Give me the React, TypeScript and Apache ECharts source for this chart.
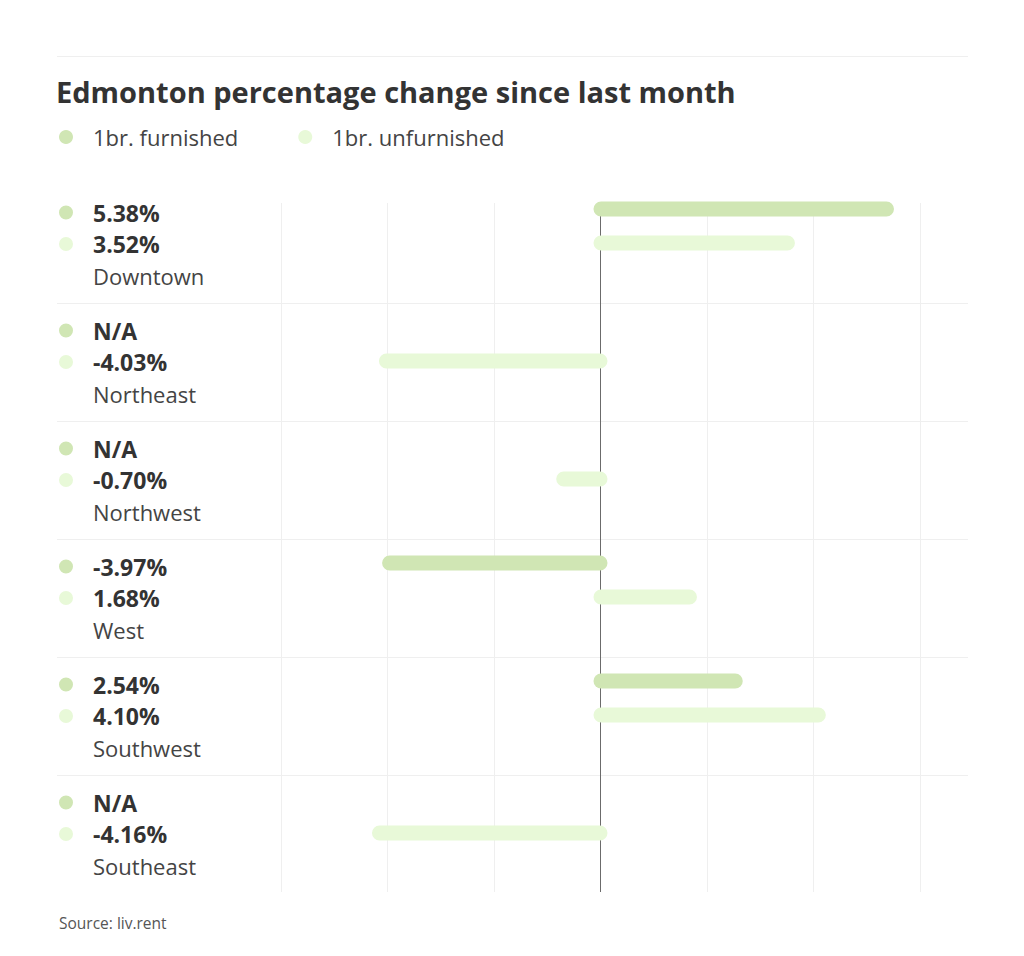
import React, { useEffect, useRef } from "react";
import * as echarts from "echarts";

const titleText = "Edmonton percentage change since last month";
const sourceText = "Source: liv.rent";
const seriesNames = ["1br. furnished", "1br. unfurnished"];
const regions = ["Downtown", "Northeast", "Northwest", "West", "Southwest", "Southeast"];
const furnished: (number | null)[] = [5.38, null, null, -3.97, 2.54, null];
const unfurnished: (number | null)[] = [3.52, -4.03, -0.7, 1.68, 4.1, -4.16];
const xMin = -6;
const xMax = 6;
const xInterval = 2;

const COLOR_F = "#d0e6b4";
const COLOR_U = "#e8f9d8";
const FONT = "'Open Sans', 'Noto Sans', sans-serif";

const fmt = (v: number | null) => (v == null ? "N/A" : v.toFixed(2) + "%");

function makeRender(color: string, offset: number) {
  return (params: any, api: any) => {
    const v = api.value(0);
    const cat = api.value(1);
    if (v == null || isNaN(v)) return null;
    const p0 = api.coord([0, cat]);
    const p1 = api.coord([v, cat]);
    const pad = 7;
    const h = 15;
    const x0 = Math.min(p0[0], p1[0]) - pad;
    const x1 = Math.max(p0[0], p1[0]) + pad;
    const yc = p0[1] + offset;
    return {
      type: "rect",
      shape: { x: x0, y: yc - h / 2, width: x1 - x0, height: h, r: h / 2 },
      style: { fill: color },
    };
  };
}

export default function App() {
  const ref = useRef<HTMLDivElement>(null);
  useEffect(() => {
    document.body.style.margin = "0";
    if (!ref.current) return;
    const chart = echarts.init(ref.current, null, { renderer: "svg" });
    const toData = (arr: (number | null)[]) =>
      arr.map((v, i) => (v == null ? null : [v, i])).filter((d) => d !== null);

    const lineColors = [];
    for (let v = xMin; v <= xMax; v += xInterval) lineColors.push(v === 0 ? "#6b6b6b" : "#efefef");

    chart.setOption({
      animation: false,
      textStyle: { fontFamily: FONT },
      title: {
        text: titleText,
        left: 56,
        top: 77,
        padding: 0,
        textStyle: { fontSize: 29, fontWeight: "bold", color: "#333333", fontFamily: FONT },
      },
      legend: {
        data: seriesNames,
        left: 59,
        top: 125,
        padding: 0,
        icon: "circle",
        itemWidth: 14,
        itemHeight: 14,
        itemGap: 60,
        textStyle: { fontSize: 22, color: "#444444", fontFamily: FONT, padding: [0, 0, 0, 15], lineHeight: 24 },
      },
      grid: [
        { left: 57, right: 56, top: 185, bottom: 63 },
        { left: 281, right: 104, top: 185, bottom: 63 },
        { left: 281, right: 104, top: 203, bottom: 64 },
      ],
      xAxis: [
        { gridIndex: 0, type: "value", min: 0, max: 1, show: false },
        {
          gridIndex: 1,
          type: "value",
          min: xMin,
          max: xMax,
          interval: xInterval,
          axisLine: { show: false },
          axisTick: { show: false },
          axisLabel: { show: false },
          splitLine: { show: false },
        },
        {
          gridIndex: 2,
          type: "value",
          min: xMin,
          max: xMax,
          interval: xInterval,
          axisLine: { show: false },
          axisTick: { show: false },
          axisLabel: { show: false },
          splitLine: { show: true, lineStyle: { color: lineColors, width: 1 } },
        },
      ],
      yAxis: [
        {
          gridIndex: 0,
          type: "category",
          data: regions,
          inverse: true,
          axisLine: { show: false },
          axisTick: { show: false },
          axisLabel: { show: false },
          splitLine: { show: true, showMinLine: false, showMaxLine: false, lineStyle: { color: "#efefef", width: 1 } },
        },
        {
          gridIndex: 1,
          type: "category",
          data: regions,
          inverse: true,
          axisLine: { show: false },
          axisTick: { show: false },
          splitLine: { show: false },
          axisLabel: {
            show: true,
            margin: 222,
            align: "left",
            formatter: (value: string, index: number) =>
              `{a| }{s| }{v|${fmt(furnished[index])}}\n{b| }{s| }{v|${fmt(unfurnished[index])}}\n{e| }{n|${value}}`,
            rich: {
              a: { width: 14, height: 14, borderRadius: 7, backgroundColor: COLOR_F, lineHeight: 31.5 },
              b: { width: 14, height: 14, borderRadius: 7, backgroundColor: COLOR_U, lineHeight: 31.5 },
              s: { width: 20, lineHeight: 31.5 },
              e: { width: 34, lineHeight: 31.5 },
              v: { fontSize: 23, fontWeight: "bold", color: "#333333", fontFamily: FONT, lineHeight: 31.5 },
              n: { fontSize: 22, color: "#444444", fontFamily: FONT, lineHeight: 31.5 },
            },
          },
        },
        { gridIndex: 2, type: "value", min: 0, max: 1, show: false },
      ],
      graphic: [
        {
          type: "line",
          shape: { x1: 57, y1: 56.5, x2: 968, y2: 56.5 },
          style: { stroke: "#efefef", lineWidth: 1 },
        },
        {
          type: "text",
          left: 59,
          top: 915,
          style: { text: sourceText, fontSize: 15.5, fill: "#555555", fontFamily: FONT },
        },
      ],
      series: [
        {
          name: seriesNames[0],
          type: "custom",
          xAxisIndex: 1,
          yAxisIndex: 1,
          itemStyle: { color: COLOR_F },
          encode: { x: 0, y: 1 },
          renderItem: makeRender(COLOR_F, -35),
          data: toData(furnished),
          z: 5,
        },
        {
          name: seriesNames[1],
          type: "custom",
          xAxisIndex: 1,
          yAxisIndex: 1,
          itemStyle: { color: COLOR_U },
          encode: { x: 0, y: 1 },
          renderItem: makeRender(COLOR_U, -1),
          data: toData(unfurnished),
          z: 5,
        },
      ],
    });
    return () => chart.dispose();
  }, []);
  return <div ref={ref} style={{ width: 1024, height: 956 }} />;
}
